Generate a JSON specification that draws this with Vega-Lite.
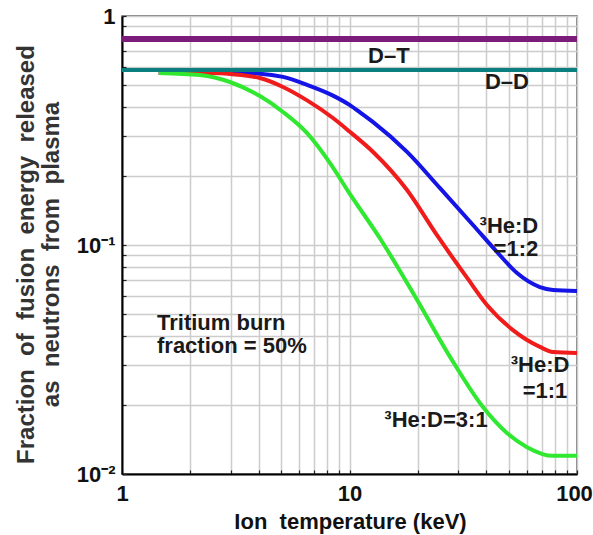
{
  "$schema": "https://vega.github.io/schema/vega-lite/v6.json",
  "width": 455,
  "height": 458,
  "autosize": {"type": "none"},
  "padding": {"left": 122, "top": 16, "right": 16, "bottom": 61},
  "background": "white",
  "config": {
    "font": "Liberation Sans",
    "view": {"stroke": "#555555", "strokeWidth": 1.5}
  },
  "datasets": {
    "curves": [
      {"series": "D–T", "T": 1, "f": 0.794},
      {"series": "D–T", "T": 100, "f": 0.794},
      {"series": "D–D", "T": 1, "f": 0.581},
      {"series": "D–D", "T": 100, "f": 0.581},
      {"series": "1:2", "T": 1.45, "f": 0.565},
      {"series": "1:2", "T": 3.0, "f": 0.565},
      {"series": "1:2", "T": 4.04, "f": 0.56},
      {"series": "1:2", "T": 5.1, "f": 0.542},
      {"series": "1:2", "T": 6.51, "f": 0.5},
      {"series": "1:2", "T": 8.46, "f": 0.449},
      {"series": "1:2", "T": 10, "f": 0.409},
      {"series": "1:2", "T": 11.3, "f": 0.375},
      {"series": "1:2", "T": 12.7, "f": 0.344},
      {"series": "1:2", "T": 17.9, "f": 0.255},
      {"series": "1:2", "T": 25.0, "f": 0.177},
      {"series": "1:2", "T": 34.9, "f": 0.1223},
      {"series": "1:2", "T": 44.5, "f": 0.0932},
      {"series": "1:2", "T": 54.5, "f": 0.0754},
      {"series": "1:2", "T": 68.7, "f": 0.0655},
      {"series": "1:2", "T": 78.4, "f": 0.0636},
      {"series": "1:2", "T": 100, "f": 0.063},
      {"series": "1:1", "T": 1.45, "f": 0.565},
      {"series": "1:1", "T": 2.5, "f": 0.564},
      {"series": "1:1", "T": 3.0, "f": 0.558},
      {"series": "1:1", "T": 4.04, "f": 0.536},
      {"series": "1:1", "T": 5.1, "f": 0.49},
      {"series": "1:1", "T": 6.51, "f": 0.428},
      {"series": "1:1", "T": 8.46, "f": 0.3585},
      {"series": "1:1", "T": 10, "f": 0.313},
      {"series": "1:1", "T": 12.7, "f": 0.2547},
      {"series": "1:1", "T": 17.9, "f": 0.1738},
      {"series": "1:1", "T": 24.2, "f": 0.1106},
      {"series": "1:1", "T": 32.9, "f": 0.0718},
      {"series": "1:1", "T": 40.2, "f": 0.0547},
      {"series": "1:1", "T": 52.3, "f": 0.0425},
      {"series": "1:1", "T": 68.7, "f": 0.0359},
      {"series": "1:1", "T": 78.4, "f": 0.0341},
      {"series": "1:1", "T": 100, "f": 0.0338},
      {"series": "3:1", "T": 1.45, "f": 0.564},
      {"series": "3:1", "T": 2.2, "f": 0.552},
      {"series": "3:1", "T": 2.98, "f": 0.515},
      {"series": "3:1", "T": 4.04, "f": 0.447},
      {"series": "3:1", "T": 5.1, "f": 0.381},
      {"series": "3:1", "T": 6.51, "f": 0.308},
      {"series": "3:1", "T": 8.21, "f": 0.228},
      {"series": "3:1", "T": 10, "f": 0.168},
      {"series": "3:1", "T": 13.6, "f": 0.107},
      {"series": "3:1", "T": 19.8, "f": 0.0577},
      {"series": "3:1", "T": 27.7, "f": 0.0324},
      {"series": "3:1", "T": 38.6, "f": 0.0196},
      {"series": "3:1", "T": 49.2, "f": 0.0151},
      {"series": "3:1", "T": 60.3, "f": 0.0131},
      {"series": "3:1", "T": 78.4, "f": 0.012},
      {"series": "3:1", "T": 100, "f": 0.012}
    ],
    "notes": [
      {"text": "D–T", "T": 14.9, "f": 0.623},
      {"text": "D–D", "T": 49.2, "f": 0.48},
      {"text": "³He:D", "T": 50.2, "f": 0.1128},
      {"text": "=1:2", "T": 53.9, "f": 0.0895},
      {"text": "³He:D ", "T": 68.8, "f": 0.02788},
      {"text": "=1:1", "T": 72.3, "f": 0.02147},
      {"text": "³He:D=3:1", "T": 24.0, "f": 0.01604},
      {"text": "Tritium burn", "T": 1.425, "f": 0.0425},
      {"text": "fraction = 50%", "T": 1.425, "f": 0.0338}
    ]
  },
  "encoding": {
    "x": {
      "field": "T",
      "type": "quantitative",
      "scale": {"type": "log", "domain": [1, 100], "nice": false},
      "axis": {
        "title": "Ion\u00a0 temperature (keV)",
        "titleFont": "Liberation Sans",
        "titleFontSize": 22,
        "titleFontWeight": "bold",
        "titleColor": "#111111",
        "titleBaseline": "alphabetic",
        "titleX": 228,
        "titleY": 54,
        "values": [1, 2, 3, 4, 5, 6, 7, 8, 9, 10, 20, 30, 40, 50, 60, 70, 80, 90, 100],
        "labelExpr": "datum.value == 1 ? '1' : datum.value == 10 ? '10' : datum.value == 100 ? '100' : ''",
        "labelOverlap": false,
        "labelFlush": false,
        "labelOffset": {"condition": {"test": "datum.value == 100", "value": -3}, "value": 0},
        "labelFont": "Liberation Sans",
        "labelFontSize": 22,
        "labelFontWeight": "bold",
        "labelColor": "#111111",
        "labelPadding": 13,
        "grid": true,
        "gridColor": "#cccccc",
        "gridWidth": 1.5,
        "domainColor": "#000000",
        "domainWidth": 2,
        "tickColor": "#222222",
        "tickWidth": 1.2,
        "tickSize": -4
      }
    },
    "y": {
      "field": "f",
      "type": "quantitative",
      "scale": {"type": "log", "domain": [0.01, 1], "nice": false},
      "axis": {
        "title": ["Fraction\u00a0 of\u00a0 fusion\u00a0 energy\u00a0 released", "as\u00a0 neutrons\u00a0 from\u00a0 plasma"],
        "titleFont": "Liberation Sans",
        "titleFontSize": 24,
        "titleFontWeight": "bold",
        "titleColor": "#333333",
        "titleAngle": -90,
        "titleAlign": "center",
        "titleBaseline": "middle",
        "titleLineHeight": 25,
        "titleX": -96,
        "titleY": 238,
        "values": [0.01, 0.02, 0.03, 0.04, 0.05, 0.06, 0.07, 0.08, 0.09, 0.1, 0.2, 0.3, 0.4, 0.5, 0.6, 0.7, 0.8, 0.9, 1],
        "labelExpr": "datum.value == 1 ? '1' : datum.value == 0.1 ? '10⁻¹' : datum.value == 0.01 ? '10⁻²' : ''",
        "labelOverlap": false,
        "labelFlush": false,
        "labelFont": "Liberation Sans",
        "labelFontSize": 22,
        "labelFontWeight": "bold",
        "labelColor": "#111111",
        "labelPadding": 11,
        "grid": true,
        "gridColor": "#cccccc",
        "gridWidth": 1.5,
        "domainColor": "#000000",
        "domainWidth": 2,
        "tickColor": "#222222",
        "tickWidth": 1.2,
        "tickSize": -4
      }
    }
  },
  "layer": [
    {
      "data": {"name": "curves"},
      "transform": [{"filter": "datum.series != 'D–T' && datum.series != 'D–D'"}],
      "mark": {"type": "line", "strokeWidth": 4, "interpolate": "monotone"},
      "encoding": {
        "color": {
          "field": "series",
          "type": "nominal",
          "scale": {"domain": ["1:2", "1:1", "3:1"], "range": ["#1414e6", "#f01c1c", "#30e830"]},
          "legend": null
        }
      }
    },
    {
      "data": {"name": "curves"},
      "transform": [{"filter": "datum.series == 'D–D'"}],
      "mark": {"type": "line", "strokeWidth": 4, "color": "#0b7f7f"},
      "encoding": {}
    },
    {
      "data": {"name": "curves"},
      "transform": [{"filter": "datum.series == 'D–T'"}],
      "mark": {"type": "line", "strokeWidth": 6, "color": "#7b1c7b"},
      "encoding": {}
    },
    {
      "data": {"name": "notes"},
      "transform": [{"filter": "indexof(['Tritium burn', 'fraction = 50%'], datum.text) < 0"}],
      "mark": {"type": "text", "align": "center", "baseline": "alphabetic", "font": "Liberation Sans", "fontSize": 22, "fontWeight": "bold", "color": "#1a1a1a"},
      "encoding": {"text": {"field": "text"}}
    },
    {
      "data": {"name": "notes"},
      "transform": [{"filter": "indexof(['Tritium burn', 'fraction = 50%'], datum.text) >= 0"}],
      "mark": {"type": "text", "align": "left", "baseline": "alphabetic", "font": "Liberation Sans", "fontSize": 22, "fontWeight": "bold", "color": "#1a1a1a"},
      "encoding": {"text": {"field": "text"}}
    }
  ]
}
